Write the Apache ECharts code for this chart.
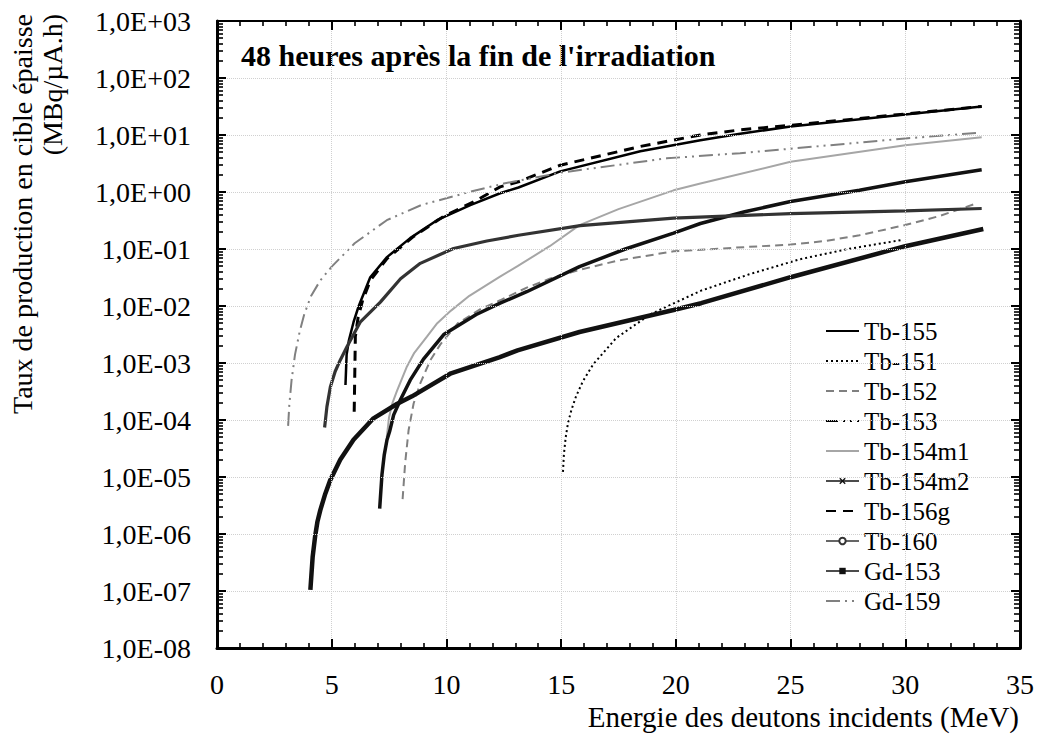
<!DOCTYPE html>
<html>
<head>
<meta charset="utf-8">
<script src="https://cdn.jsdelivr.net/npm/echarts/dist/echarts.min.js"></script>
<style>
html,body{margin:0;padding:0;background:#fff;}
#chart{width:1038px;height:735px;}
</style>
</head>
<body>
<div id="chart"></div>
<script>
// ---------------- DATA ----------------
const seriesNames = ['Tb-155','Tb-151','Tb-152','Tb-153','Tb-154m1','Tb-154m2','Tb-156g','Tb-160','Gd-153','Gd-159'];

const yTickLabels = ['1,0E-08','1,0E-07','1,0E-06','1,0E-05','1,0E-04','1,0E-03','1,0E-02','1,0E-01','1,0E+00','1,0E+01','1,0E+02','1,0E+03'];
const xTickLabels = ['0','5','10','15','20','25','30','35'];

const tb155E = [5.6,5.65,5.75,5.95,6.17,6.68,7.41,8.42,9.59,11.04,12.34,13.14,14.96,18.45,21.07,22.8,25,30,33.33];
const tb155V = [4.1e-4,1.4e-3,2.5e-3,5.2e-3,9.8e-3,3.2e-2,7.2e-2,0.155,0.32,0.59,0.95,1.2,2.3,5.2,8.1,10.5,14.1,22.9,31.6];
const tb151E = [15.08,15.12,15.2,15.3,15.45,15.65,15.95,16.4,17.4,18.9,21.1,23.2,25.4,27.5,29.9];
const tb151V = [1.23e-5,2.5e-5,5.0e-5,8.9e-5,1.51e-4,2.6e-4,4.8e-4,9.5e-4,2.75e-3,7.2e-3,1.86e-2,3.6e-2,6.6e-2,0.1,0.145];
const tb152E = [8.09,8.2,8.35,8.57,8.86,9.3,9.73,10.5,11.5,12.34,13.5,14.5,15.8,17.5,19.9,22.5,25,26.5,28,30,31.5,33.1];
const tb152V = [4.1e-6,1.74e-5,6.6e-5,1.95e-4,4.4e-4,1.12e-3,2.1e-3,5.0e-3,8.9e-3,1.26e-2,2.1e-2,3.0e-2,4.3e-2,6.3e-2,9.1e-2,0.105,0.12,0.138,0.174,0.263,0.38,0.63];
const tb153E = [];
const tb153V = [];
const tb154m1E = [7.4,7.5,7.65,7.84,8.28,8.6,9.15,9.6,10.2,11.0,12.3,13.1,14.5,15.8,17.5,19.9,21.07,25,30,33.33];
const tb154m1V = [5.0e-5,1.12e-4,2.0e-4,3.2e-4,8.7e-4,1.51e-3,2.9e-3,5.0e-3,8.3e-3,1.51e-2,3.2e-2,5.0e-2,0.112,0.263,0.50,1.07,1.41,3.39,6.6,9.1];
const tb154m2E = [7.09,7.19,7.29,7.41,7.52,7.7,7.99,8.42,9.0,9.9,11.3,12.34,13.5,15.8,17.8,19.9,21.07,23,25,28,30,33.33];
const tb154m2V = [2.8e-6,1.1e-5,2.45e-5,4.5e-5,6.2e-5,1.23e-4,2.24e-4,5.0e-4,1.17e-3,3.2e-3,7.1e-3,1.12e-2,1.78e-2,4.9e-2,0.1,0.19,0.28,0.45,0.68,1.07,1.51,2.45];
const tb156gE = [5.98,6.03,6.15,6.35,6.68,7.41,8.57,9.87,11.33,12.34,13.14,14.96,18.45,21.07,22.8,25,30,33.33];
const tb156gV = [1.4e-4,2.9e-3,6.3e-3,1.26e-2,2.8e-2,6.8e-2,0.166,0.37,0.72,1.23,1.51,2.95,6.3,10,12.3,14.8,23.4,31.6];
const tb160E = [4.69,4.79,4.94,5.15,5.37,5.67,6.24,7.12,8.0,8.86,10.31,11.76,13.14,15.83,19.9,25,30,33.33];
const tb160V = [7.4e-5,1.7e-4,3.8e-4,7.1e-4,1.12e-3,1.95e-3,5.2e-3,1.17e-2,3.0e-2,5.6e-2,0.102,0.138,0.174,0.257,0.347,0.417,0.468,0.513];
const gd153E = [4.07,4.17,4.28,4.38,4.5,4.72,4.94,5.37,5.95,6.82,7.84,8.5,10.2,12.3,13.1,15.8,19.9,21.1,25,30,33.4];
const gd153V = [1.05e-7,4.0e-7,9.3e-7,1.66e-6,2.6e-6,5.1e-6,8.9e-6,2.0e-5,4.5e-5,1.07e-4,1.91e-4,2.6e-4,6.6e-4,1.26e-3,1.66e-3,3.5e-3,8.5e-3,1.12e-2,3.2e-2,0.112,0.224];
const gd159E = [3.1,3.15,3.25,3.4,3.6,3.8,4.1,4.5,5.0,6.0,7.4,8.9,11.0,12.5,15.0,19.6,22.8,25,30,33.3];
const gd159V = [7.9e-5,1.8e-4,5.0e-4,1.4e-3,3.5e-3,7.1e-3,1.5e-2,2.8e-2,4.9e-2,0.126,0.32,0.59,1.0,1.41,2.19,3.9,4.8,5.75,8.7,11.0];

// ---------------- CHART ----------------
const FONT = '"Liberation Serif", "Times New Roman", serif';
const pairs = (E, V) => E.map((e, i) => [e, V[i]]);
const X_MARK = 'path://M0,1.5L1.5,0L5,3.5L8.5,0L10,1.5L6.5,5L10,8.5L8.5,10L5,6.5L1.5,10L0,8.5L3.5,5Z';
const BAR_MARK = 'path://M0,0L10,0L10,3L0,3Z';

function mk(name, E, V, color, width, type, symbol) {
  return {
    name: name, type: 'line', data: pairs(E, V), z: 2,
    symbol: symbol || 'circle', showSymbol: false, symbolSize: 6,
    lineStyle: { color: color, width: width, type: type || 'solid' },
    itemStyle: { color: color, opacity: symbol ? 1 : 0 },
    silent: true
  };
}

const series = [
  mk('Tb-155', tb155E, tb155V, '#000000', 2.5, 'solid'),
  mk('Tb-151', tb151E, tb151V, '#000000', 2, [2, 3]),
  mk('Tb-152', tb152E, tb152V, '#808080', 2, [8, 5]),
  mk('Tb-153', tb153E, tb153V, '#000000', 2.5, [12, 5, 2, 5, 2, 5]),
  mk('Tb-154m1', tb154m1E, tb154m1V, '#a6a6a6', 2, 'solid'),
  mk('Tb-154m2', tb154m2E, tb154m2V, '#111111', 3.5, 'solid', X_MARK),
  mk('Tb-156g', tb156gE, tb156gV, '#000000', 3, [10, 7]),
  mk('Tb-160', tb160E, tb160V, '#333333', 3.2, 'solid', 'emptyCircle'),
  mk('Gd-153', gd153E, gd153V, '#111111', 4.5, 'solid', BAR_MARK),
  mk('Gd-159', gd159E, gd159V, '#808080', 2, [14, 5, 2, 5, 2, 5])
];

const legendData = seriesNames.map(n => {
  const item = { name: n };
  if (n === 'Tb-154m2' || n === 'Tb-160' || n === 'Gd-153') item.lineStyle = { width: 1.5 };
  return item;
});

function xAx(position, withLabels) {
  return {
    type: 'value', min: 0, max: 35, interval: 5, position: position, z: 10,
    axisLine: { show: true, onZero: false, lineStyle: { color: '#000', width: position === 'top' ? 2 : 3 } },
    axisTick: { show: true, inside: true, length: 9, lineStyle: { color: '#000', width: 2 } },
    minorTick: { show: true, splitNumber: 5, length: 5, lineStyle: { color: '#000', width: 1.6 } },
    axisLabel: withLabels ? { show: true, margin: 22, fontFamily: FONT, fontSize: 28, color: '#000',
      formatter: v => xTickLabels[Math.round(v / 5)] } : { show: false },
    splitLine: withLabels ? { show: true, lineStyle: { color: '#d0d0d0', type: 'dotted', width: 1 } } : { show: false }
  };
}
function yAx(position, withLabels) {
  return {
    type: 'log', logBase: 10, min: 1e-8, max: 1e3, interval: 1, position: position, z: 10,
    axisLine: { show: true, onZero: false, lineStyle: { color: '#000', width: 3 } },
    axisTick: { show: true, inside: true, length: 9, lineStyle: { color: '#000', width: 2 } },
    minorTick: { show: true, splitNumber: 9, length: 6, lineStyle: { color: '#000', width: 1.6 } },
    axisLabel: withLabels ? { show: true, margin: 26, fontFamily: FONT, fontSize: 28, color: '#000',
      formatter: v => yTickLabels[Math.round(Math.log10(v)) + 8] } : { show: false },
    splitLine: withLabels ? { show: true, lineStyle: { color: '#d0d0d0', type: 'dotted', width: 1 } } : { show: false }
  };
}

const chart = echarts.init(document.getElementById('chart'), null, { renderer: 'svg' });
chart.setOption({
  animation: false,
  backgroundColor: '#ffffff',
  title: {
    text: "48 heures après la fin de l'irradiation",
    left: 241, top: 40, padding: 0,
    textStyle: { fontFamily: FONT, fontSize: 30, fontWeight: 'bold', color: '#000' }
  },
  legend: {
    data: legendData,
    orient: 'vertical', left: 820, top: 313,
    itemWidth: 33, itemHeight: 8, itemGap: 4,
    selectedMode: false,
    textStyle: { fontFamily: FONT, fontSize: 25, lineHeight: 26, color: '#000' }
  },
  grid: { left: 217, right: 18, top: 21, bottom: 87 },
  xAxis: [ xAx('bottom', true), xAx('top', false) ],
  yAxis: [ yAx('left', true), yAx('right', false) ],
  graphic: [
    { type: 'text', x: 22, y: 14, rotation: Math.PI / 2, silent: true,
      style: { text: 'Taux de production en cible épaisse', font: '28px ' + FONT, fill: '#000', align: 'right', verticalAlign: 'middle' } },
    { type: 'text', x: 52, y: 14, rotation: Math.PI / 2, silent: true,
      style: { text: '(MBq/µA.h)', font: '28px ' + FONT, fill: '#000', align: 'right', verticalAlign: 'middle' } },
    { type: 'text', x: 1019, y: 717, silent: true,
      style: { text: 'Energie des deutons incidents (MeV)', font: '29px ' + FONT, fill: '#000', align: 'right', verticalAlign: 'middle' } }
  ],
  series: series
});
</script>
</body>
</html>
